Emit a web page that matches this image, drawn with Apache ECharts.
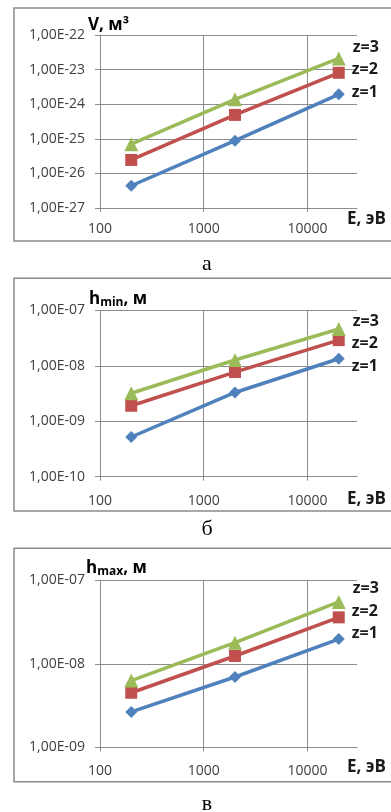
<!DOCTYPE html>
<html><head><meta charset="utf-8">
<script src="https://cdn.jsdelivr.net/npm/echarts@6/dist/echarts.min.js"></script>
<style>html,body{margin:0;padding:0;background:#fff}#c{width:391px;height:812px}</style>
</head><body><div id="c"></div>
<script>
// ---- data ----
const energy = [200, 2000, 20000];
const xTickValues = [100, 1000, 10000];
const seriesNames = ['z=1', 'z=2', 'z=3'];
const V_z1 = [4.4e-27, 8.8e-26, 1.93e-24];
const V_z2 = [2.45e-26, 4.9e-25, 8.1e-24];
const V_z3 = [7.0e-26, 1.38e-24, 2.1e-23];
const hmin_z1 = [5.2e-10, 3.3e-9, 1.34e-8];
const hmin_z2 = [1.9e-9, 7.7e-9, 2.9e-8];
const hmin_z3 = [3.2e-9, 1.27e-8, 4.6e-8];
const hmax_z1 = [2.65e-9, 6.95e-9, 1.98e-8];
const hmax_z2 = [4.5e-9, 1.24e-8, 3.6e-8];
const hmax_z3 = [6.3e-9, 1.79e-8, 5.5e-8];
const yRangeV = [1e-27, 1e-22];
const yRangeHmin = [1e-10, 1e-7];
const yRangeHmax = [1e-9, 1e-7];
const xRange = [100, 30000];
const captions = ['а', 'б', 'в'];
const xAxisName = 'E, эВ';

// ---- styles / layout ----
const colors = ['#4F81BD', '#C0504D', '#9BBB59'];
const symbols = ['diamond', 'rect', 'triangle'];
const symbolSizes = [12, 12, 14];
const gridColor = '#8c8c8c';
const labelFont = 'Open Sans';
// unit: values are plotted in units of `unit` (ECharts rounds numbers below 1e-20)
const panels = [
  { values: [V_z1, V_z2, V_z3], yRange: yRangeV, unit: 1e-27, top: 35, height: 173,
    boxTop: 8, boxH: 233, yName: '{b|V, м³}', nameX: 88, nameY: 25,
    xNameY: 219, xLabelMargin: 14, capY: 264,
    lblOff: [[2, -2], [2, -3], [2, -11]] },
  { values: [hmin_z1, hmin_z2, hmin_z3], yRange: yRangeHmin, unit: 1e-10, top: 310.3, height: 166.4,
    boxTop: 278.3, boxH: 232.7, yName: '{b|h}{s|min}{b|, м}', nameX: 89, nameY: 299,
    xNameY: 499, xLabelMargin: 17, capY: 529,
    lblOff: [[2, 8], [2, 3], [2, -8]] },
  { values: [hmax_z1, hmax_z2, hmax_z3], yRange: yRangeHmax, unit: 1e-9, top: 580.3, height: 167,
    boxTop: 548.3, boxH: 233.4, yName: '{b|h}{s|max}{b|, м}', nameX: 86, nameY: 568,
    xNameY: 767, xLabelMargin: 16.5, capY: 804,
    lblOff: [[2, -6], [2, -6], [2, -14]] }
];

function sci(v) {
  const e = Math.round(Math.log10(v));
  const m = v / Math.pow(10, e);
  return m.toFixed(2).replace('.', ',') + 'E' + (e < 0 ? '-' : '+') + String(Math.abs(e)).padStart(2, '0');
}

const grid = [], xAxis = [], yAxis = [], series = [], graphic = [];
panels.forEach((p, i) => {
  const u = p.unit;
  grid.push({ left: 100, width: 257, top: p.top, height: p.height });
  xAxis.push({
    type: 'log', logBase: 10, gridIndex: i, min: xRange[0], max: xRange[1],
    axisLine: { show: true, lineStyle: { color: gridColor, width: 1 } },
    axisTick: { show: true, length: 4, lineStyle: { color: gridColor } },
    axisLabel: { show: true, margin: p.xLabelMargin, showMaxLabel: false,
      fontFamily: labelFont, fontSize: 14, color: '#404040',
      formatter: v => xTickValues.some(t => Math.abs(t - v) / t < 1e-6) ? String(Math.round(v)) : '' },
    splitLine: { show: true, showMaxLine: false, lineStyle: { color: gridColor, width: 1 } },
    minorTick: { show: false }
  });
  yAxis.push({
    type: 'log', logBase: 10, gridIndex: i, min: Math.round(p.yRange[0] / u), max: Math.round(p.yRange[1] / u),
    axisLine: { show: true, onZero: false, lineStyle: { color: gridColor, width: 1 } },
    axisTick: { show: true, length: 5, lineStyle: { color: gridColor } },
    axisLabel: { margin: 15, fontFamily: labelFont, fontSize: 14, color: '#404040', formatter: v => sci(v * u) },
    splitLine: { show: true, lineStyle: { color: gridColor, width: 1 } }
  });
  p.values.forEach((vals, k) => {
    series.push({
      type: 'line', xAxisIndex: i, yAxisIndex: i, name: seriesNames[k],
      data: energy.map((x, j) => [x, vals[j] / u]),
      symbol: symbols[k], symbolSize: symbolSizes[k], showAllSymbol: true,
      lineStyle: { color: colors[k], width: 3.5 },
      itemStyle: { color: colors[k] },
      label: { show: true, position: 'right', distance: 5, offset: p.lblOff[k],
        fontFamily: labelFont, fontWeight: 'bold', fontSize: 16, color: '#1a1a1a',
        formatter: q => q.dataIndex === energy.length - 1 ? seriesNames[k] : '' },
      emphasis: { disabled: true },
      animation: false, z: 3 + k
    });
  });
  graphic.push({ type: 'rect', shape: { x: 14, y: p.boxTop, width: 400, height: p.boxH },
    style: { fill: 'none', stroke: '#8a8a8a', lineWidth: 1.5 }, silent: true });
  graphic.push({ type: 'text', x: p.nameX, y: p.nameY,
    style: { text: p.yName, verticalAlign: 'middle', align: 'left',
      rich: { b: { fontFamily: labelFont, fontWeight: 'bold', fontSize: 17, color: '#1a1a1a', lineHeight: 20 },
              s: { fontFamily: labelFont, fontWeight: 'bold', fontSize: 12, color: '#1a1a1a', lineHeight: 11, verticalAlign: 'bottom' } } } });
  graphic.push({ type: 'text', x: 347, y: p.xNameY,
    style: { text: xAxisName, verticalAlign: 'middle', align: 'left',
      fontFamily: labelFont, fontWeight: 'bold', fontSize: 17, fill: '#1a1a1a' } });
  graphic.push({ type: 'text', x: 207, y: p.capY,
    style: { text: captions[i], verticalAlign: 'middle', align: 'center',
      fontFamily: 'Liberation Serif', fontSize: 22, fill: '#000' } });
});

const chart = echarts.init(document.getElementById('c'), null, { renderer: 'canvas' });
chart.setOption({ animation: false, backgroundColor: '#fff', grid, xAxis, yAxis, series, graphic });
</script>
</body></html>
